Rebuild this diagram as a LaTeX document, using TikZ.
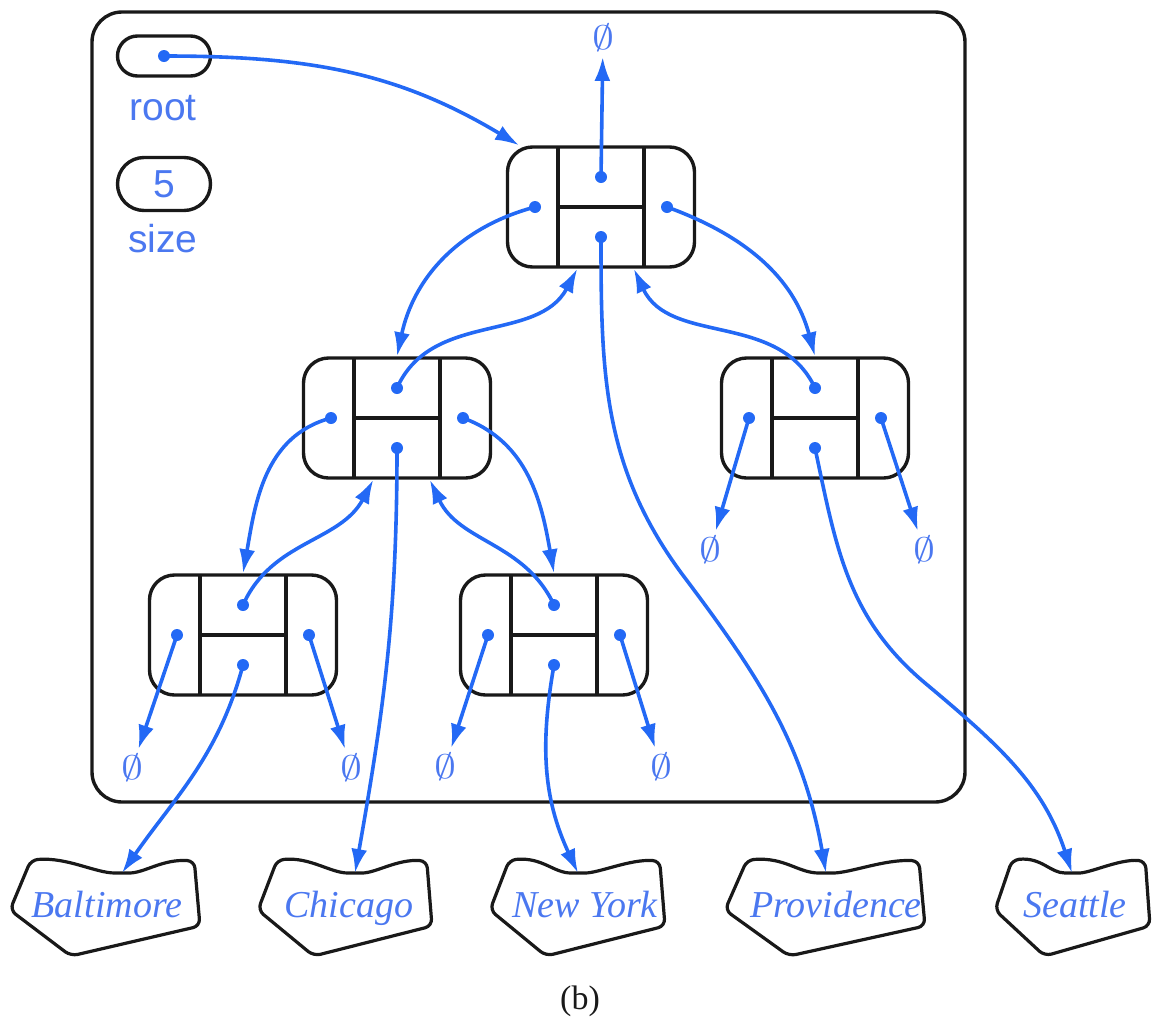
\documentclass[tikz,border=0pt]{standalone}
\usepackage{fontspec}
\setmainfont{Liberation Serif}
\setsansfont{Liberation Sans}
\usepackage{amssymb,graphicx}
\usepackage{tikz}
\usetikzlibrary{arrows.meta,shapes.misc}
\definecolor{ptrblue}{RGB}{35,105,245}
\definecolor{txtblue}{RGB}{75,120,240}
\definecolor{ink}{RGB}{25,25,25}

\begin{document}
\begin{tikzpicture}[x=1pt,y=1pt,>={Latex[length=24pt,width=16pt]},
  frame/.style={draw=ink,line width=3.4pt,rounded corners=30pt},
  treenode/.style={draw=ink,line width=3.4pt,rounded corners=25pt,minimum width=187pt,minimum height=120pt,inner sep=0pt},
  cell/.style={draw=ink,line width=3.4pt},
  capsule/.style={draw=ink,line width=3.4pt,rounded rectangle,minimum width=93pt,inner sep=0pt},
  ptr/.style={draw=ptrblue,line width=3.6pt,->},
  dot/.style={fill=ptrblue},
  nil/.style={text=txtblue,inner sep=5pt},
  lbl/.style={text=txtblue,font=\sffamily\fontsize{39}{40}\selectfont},
  city/.style={text=txtblue,font=\itshape\fontsize{38}{40}\selectfont,anchor=base,inner sep=0pt},
  blob/.style={draw=ink,line width=3.2pt,rounded corners=7pt}]
\useasboundingbox (0,0) rectangle (1161,-1026);
\draw[frame] (92,-12) rectangle (965,-802);

% root and size fields
\node[capsule,minimum height=40pt] (rootbox) at (164,-56) {};
\coordinate (root-ptr) at (164,-56);
\fill[dot] (root-ptr) circle (6pt);
\node[lbl,anchor=base] (rootlbl) at (163,-120) {root};
\node[capsule,lbl,minimum height=53pt] (sizebox) at (164,-184) {5};
\node[lbl,anchor=base] (sizelbl) at (163,-252) {size};

% tree nodes
\foreach \n/\x/\y in {t/601/-207,l/397/-418,r/815/-418,ll/243/-635,lr/554/-635}{
  \node[treenode] (\n) at (\x,\y) {};
  \draw[cell] (\x-43,\y+60) -- (\x-43,\y-60)
              (\x+43,\y+60) -- (\x+43,\y-60)
              (\x-43,\y) -- (\x+43,\y);
  \coordinate (\n-up) at (\x,\y+30);
  \coordinate (\n-el) at (\x,\y-30);
  \coordinate (\n-lt) at (\x-66,\y);
  \coordinate (\n-rt) at (\x+66,\y);
  \foreach \f in {up,el,lt,rt} \fill[dot] (\n-\f) circle (6pt);
}

% null pointers
\newcommand{\nilsym}{\scalebox{4.4}[3.4]{$\emptyset$}}
\node[nil] (t-nil) at (603,-38) {\nilsym};
\node[nil] (r-nil1) at (710,-550) {\nilsym};
\node[nil] (r-nil2) at (924,-550) {\nilsym};
\node[nil] (ll-nil1) at (132,-768) {\nilsym};
\node[nil] (ll-nil2) at (351,-768) {\nilsym};
\node[nil] (lr-nil1) at (445,-767) {\nilsym};
\node[nil] (lr-nil2) at (661,-767) {\nilsym};

% elements
\foreach \n/\x/\w/\d/\c/\txt in {balt/10/190/122/107/Baltimore,chic/258/174/355/349/Chicago,
    ny/490/175/578/585/New York,prov/725/200/826/836/Providence,seat/995/155/1072/1075/Seattle}{
  \draw[blob] (\x,-910) -- (\x+0.11*\w,-860)
    .. controls (\x+0.3*\w,-857) and (\d-0.14*\w,-873) .. (\d,-873)
    .. controls (\d+0.12*\w,-873) and (\x+0.8*\w,-859) .. (\x+0.97*\w,-861)
    -- (\x+\w,-926) -- (\x+0.32*\w,-956) -- cycle;
  \coordinate (\n-in) at (\d,-873);
  \node[city] (\n) at (\c,-917) {\txt};
}

% links
\draw[ptr] (root-ptr) to[out=0,in=149] (t.143);
\draw[ptr] (t-up) -- (t-nil);
\draw[ptr] (t-lt) to[out=195,in=78] (l.north);
\draw[ptr] (l-up) to[out=66,in=-118] (t.-111);
\draw[ptr] (t-rt) to[out=-20,in=105] (r.north);
\draw[ptr] (r-up) to[out=115,in=-65] (t.-62);
\draw[ptr] (l-lt) to[out=195,in=80] (ll.north);
\draw[ptr] (ll-up) to[out=66,in=-118] (l.-111);
\draw[ptr] (l-rt) to[out=-20,in=100] (lr.north);
\draw[ptr] (lr-up) to[out=115,in=-65] (l.-62);
\draw[ptr] (r-lt) -- (r-nil1);
\draw[ptr] (r-rt) -- (r-nil2);
\draw[ptr] (ll-lt) -- (ll-nil1);
\draw[ptr] (ll-rt) -- (ll-nil2);
\draw[ptr] (lr-lt) -- (lr-nil1);
\draw[ptr] (lr-rt) -- (lr-nil2);
\draw[ptr] (ll-el) to[out=-105,in=55] (balt-in);
\draw[ptr] (l-el) to[out=-90,in=80] (chic-in);
\draw[ptr] (lr-el) to[out=-100,in=115] (ny-in);
\draw[ptr] (t-el) to[out=-90,in=127] (685,-578) to[out=-53,in=100] (prov-in);
\draw[ptr] (r-el) to[out=-78,in=140] (925,-683) to[out=-40,in=108] (seat-in);

\node[text=ink,font=\fontsize{34}{36}\selectfont] (caption) at (580,-1001) {(b)};
\end{tikzpicture}
\end{document}
